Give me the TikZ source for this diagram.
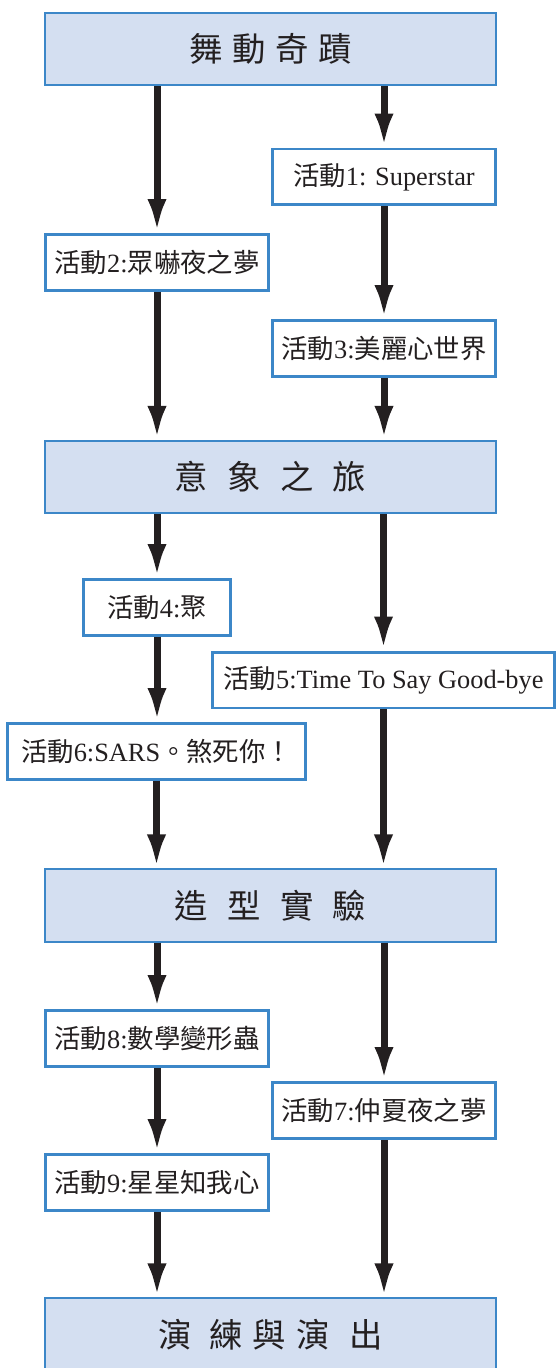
\documentclass[tikz,border=0pt]{standalone}
\usepackage{fontspec}
\setmainfont{Liberation Serif}
\newfontfamily\cjkfont{Noto Sans CJK TC}
\usepackage{xcolor}
\definecolor{boxblue}{HTML}{3C87C8}
\definecolor{headfill}{HTML}{D4DFF1}
\definecolor{inkblack}{HTML}{231F20}
\newcommand{\zh}[1]{{\cjkfont #1}}
\tikzset{stage/.style={draw=boxblue,fill=headfill,line width=0.9pt,inner sep=0pt,
   minimum width=9.03cm,minimum height=1.45cm,text=inkblack,
   font=\cjkfont\fontsize{19}{23}\selectfont},
 activity/.style={draw=boxblue,fill=white,line width=1.7pt,inner sep=0pt,
   minimum width=4.46cm,minimum height=1.12cm,text=inkblack,
   font=\fontsize{15}{18}\selectfont},
 flow/.style={draw=inkblack,line width=0.14cm,-{Latex[length=0.68cm,width=0.38cm]}},
 }
\usetikzlibrary{arrows.meta}

\begin{document}
\begin{tikzpicture}[x=0.02cm,y=-0.02cm]
        \useasboundingbox (0,0) rectangle (557,1368);
        \node[stage] (dance) at (270.5,49) {舞\hspace{5.5pt}動\hspace{5.5pt}奇\hspace{5.5pt}蹟};
        \node[stage] (image) at (270.5,477) {意\hspace{11pt}象\hspace{11pt}之\hspace{11pt}旅};
        \node[stage] (shape) at (270.5,905.5) {造\hspace{11pt}型\hspace{11pt}實\hspace{11pt}驗};
        \node[stage] (stagework) at (270.5,1334.5) {演\hspace{10pt}練\hspace{5.5pt}與\hspace{6pt}演\hspace{11pt}出};
        \node[activity] (act1) at (384,177) {\zh{活動}1: Superstar};
        \node[activity] (act2) at (157,262.5) {\zh{活動}2:\zh{眾嚇夜之夢}};
        \node[activity] (act3) at (384,348.5) {\zh{活動}3:\zh{美麗心世界}};
        \node[activity,minimum width=2.94cm] (act4) at (157,607.5) {\zh{活動}4:\zh{聚}};
        \node[activity,minimum width=6.84cm] (act5) at (383.5,680) {\zh{活動}5:Time To Say Good-bye};
        \node[activity,minimum width=5.96cm] (act6) at (156.5,751.5) {\zh{活動}6:SARS\zh{。煞死你！}};
        \node[activity] (act8) at (157,1038.5) {\zh{活動}8:\zh{數學變形蟲}};
        \node[activity] (act7) at (384,1110.5) {\zh{活動}7:\zh{仲夏夜之夢}};
        \node[activity] (act9) at (157,1182.5) {\zh{活動}9:\zh{星星知我心}};
        % left column
        \draw[flow] (dance.south -| act2) -- (act2.north);
        \draw[flow] (act2.south) -- (act2.south |- image.north);
        \draw[flow] (image.south -| act4) -- (act4.north);
        \draw[flow] (act4.south) -- (act6.north -| act4);
        \draw[flow] (act6.south) -- (act6.south |- shape.north);
        \draw[flow] (shape.south -| act8) -- (act8.north);
        \draw[flow] (act8.south) -- (act9.north);
        \draw[flow] (act9.south) -- (act9.south |- stagework.north);
        % right column
        \draw[flow] (dance.south -| act1) -- (act1.north);
        \draw[flow] (act1.south) -- (act3.north);
        \draw[flow] (act3.south) -- (act3.south |- image.north);
        \draw[flow] (image.south -| act5) -- (act5.north);
        \draw[flow] (act5.south) -- (act5.south |- shape.north);
        \draw[flow] (shape.south -| act7) -- (act7.north);
        \draw[flow] (act7.south) -- (act7.south |- stagework.north);
    \end{tikzpicture}
\end{document}
